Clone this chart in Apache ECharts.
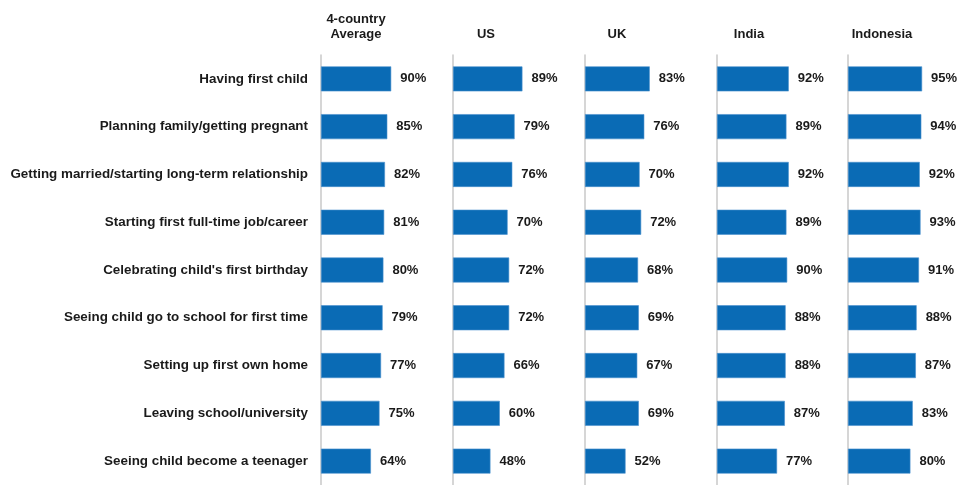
<!DOCTYPE html>
<html>
<head>
<meta charset="utf-8">
<script src="https://cdn.jsdelivr.net/npm/echarts@6/dist/echarts.min.js"></script>
<style>
  html, body { margin: 0; padding: 0; background: #fff; }
  #chart { width: 957px; height: 485px; }
</style>
</head>
<body>
<div id="chart"></div>
<script>
// Life moments (top to bottom)
const categories = [
  "Having first child",
  "Planning family/getting pregnant",
  "Getting married/starting long-term relationship",
  "Starting first full-time job/career",
  "Celebrating child's first birthday",
  "Seeing child go to school for first time",
  "Setting up first own home",
  "Leaving school/university",
  "Seeing child become a teenager"
];

// Column headers
const panelNames = ["4-country\nAverage", "US", "UK", "India", "Indonesia"];

// Percentages per column, same order as categories
const average   = [90, 85, 82, 81, 80, 79, 77, 75, 64];
const us        = [89, 79, 76, 70, 72, 72, 66, 60, 48];
const uk        = [83, 76, 70, 72, 68, 69, 67, 69, 52];
const india     = [92, 89, 92, 89, 90, 88, 88, 87, 77];
const indonesia = [95, 94, 92, 93, 91, 88, 87, 83, 80];

const panelValues = [average, us, uk, india, indonesia];

// Layout of the small multiples
const panelLeft = [321, 453, 585, 717, 848];
const headerCenter = [356, 486, 617, 749, 882];
const panelWidth = 78;
const gridTop = 55;
const gridHeight = 433;

const FONT = "'Liberation Sans', Arial, sans-serif";
const BAR = '#0A6BB5';

const grids = [], xAxes = [], yAxes = [], series = [], graphics = [];

panelValues.forEach((vals, i) => {
  grids.push({ left: panelLeft[i], top: gridTop, width: panelWidth, height: gridHeight });
  xAxes.push({
    type: 'value', gridIndex: i, min: 0, max: 100,
    show: false
  });
  yAxes.push({
    type: 'category', gridIndex: i, data: categories, inverse: true,
    axisLine: { show: true, lineStyle: { color: '#C8C8C8', width: 1.5 } },
    axisTick: { show: false },
    axisLabel: {
      show: i === 0, margin: 13,
      fontFamily: FONT, fontWeight: 'bold', fontSize: 13.4, color: '#1a1a1a'
    }
  });
  series.push({
    type: 'bar', xAxisIndex: i, yAxisIndex: i, data: vals,
    barWidth: 25,
    itemStyle: { color: BAR, borderColor: '#4A90CF', borderWidth: 0.6 },
    label: {
      show: true, position: 'right', distance: 9,
      formatter: p => p.value + '%',
      fontFamily: FONT, fontWeight: 'bold', fontSize: 13, color: '#1a1a1a'
    },
    silent: true,
    animation: false
  });
  const lines = panelNames[i].split('\n');
  lines.forEach((t, k) => {
    graphics.push({
      type: 'text',
      x: headerCenter[i],
      y: 34 - (lines.length - 1 - k) * 15,
      style: {
        text: t, textAlign: 'center', textVerticalAlign: 'middle',
        font: 'bold 13px ' + FONT, fill: '#1a1a1a'
      }
    });
  });
});

const chart = echarts.init(document.getElementById('chart'), null, { renderer: 'canvas' });
chart.setOption({
  animation: false,
  grid: grids,
  xAxis: xAxes,
  yAxis: yAxes,
  series: series,
  graphic: graphics
});
</script>
</body>
</html>
